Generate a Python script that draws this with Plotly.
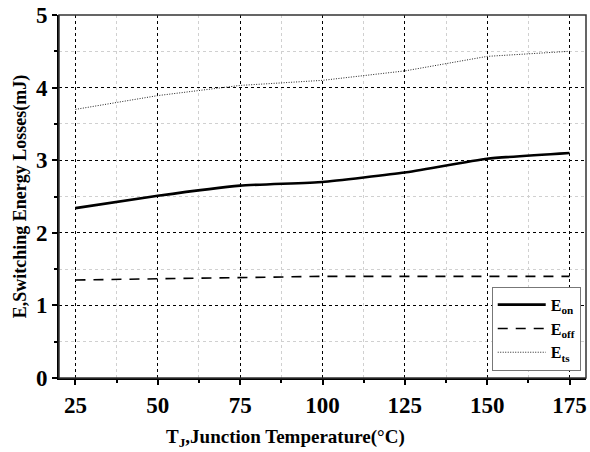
import plotly.graph_objects as go

temps = [25, 50, 75, 100, 125, 150, 175]
e_on = [2.34, 2.51, 2.65, 2.70, 2.83, 3.02, 3.10]
e_off = [1.35, 1.37, 1.39, 1.40, 1.40, 1.40, 1.40]
e_ts = [3.70, 3.89, 4.03, 4.10, 4.23, 4.43, 4.50]

x_ticks = [25, 50, 75, 100, 125, 150, 175]
y_ticks = [0, 1, 2, 3, 4, 5]

FONT = "Liberation Serif"

fig = go.Figure()
fig.add_trace(go.Scatter(x=temps, y=e_on, mode="lines", name="E<sub>on</sub>",
                         line=dict(color="black", width=2.6, shape="spline", smoothing=0.4)))
fig.add_trace(go.Scatter(x=temps, y=e_off, mode="lines", name="E<sub>off</sub>",
                         line=dict(color="black", width=1.6, dash="10px,8px")))
fig.add_trace(go.Scatter(x=temps, y=e_ts, mode="lines", name="E<sub>ts</sub>",
                         line=dict(color="#222222", width=1, dash="1px,1.5px")))

fig.update_layout(
    width=590, height=452,
    margin=dict(l=59, r=4, t=15, b=74),
    plot_bgcolor="white", paper_bgcolor="white",
    font=dict(family=FONT, color="black", weight="bold"),
    showlegend=True,
    legend=dict(x=0.99, xanchor="right", y=0.02, yanchor="bottom",
                bgcolor="white", bordercolor="#777777", borderwidth=1,
                font=dict(family=FONT, size=16, color="black", weight="bold"),
                itemwidth=48, tracegroupgap=0),
    xaxis=dict(
        range=[20, 180], tickvals=x_ticks, ticktext=[str(t) for t in x_ticks],
        tickfont=dict(family=FONT, size=23, color="black", weight="bold"),
        showline=True, linecolor="black", linewidth=2, mirror=False,
        ticks="outside", ticklen=5, tickwidth=1.5, tickcolor="black",
        showgrid=True, gridcolor="black", griddash="dot", gridwidth=1,
        minor=dict(dtick=12.5, tick0=0, ticks="outside", ticklen=3, tickcolor="black",
                   showgrid=True, gridcolor="#d0d0d0", griddash="dot", gridwidth=1),
        zeroline=False,
    ),
    yaxis=dict(
        range=[0, 5], tickvals=y_ticks,
        tickfont=dict(family=FONT, size=23, color="black", weight="bold"),
        showline=True, linecolor="black", linewidth=2, mirror=False,
        ticks="outside", ticklen=5, tickwidth=1.5, tickcolor="black",
        showgrid=True, gridcolor="black", griddash="dot", gridwidth=1,
        minor=dict(dtick=0.5, ticks="outside", ticklen=3, tickcolor="black",
                   showgrid=True, gridcolor="#d0d0d0", griddash="dot", gridwidth=1),
        zeroline=False,
        title=dict(text="E,Switching Energy Losses(mJ)",
                   font=dict(family=FONT, size=18, color="black", weight="bold"), standoff=5),
    ),
)

fig.add_annotation(text="T<sub>J</sub>,Junction Temperature(°C)", xref="paper", yref="paper",
                   x=0.43, y=-0.165, xanchor="center", yanchor="middle", showarrow=False,
                   font=dict(family=FONT, size=19, color="black", weight="bold"))

fig.add_shape(type="rect", xref="paper", yref="paper", x0=0, y0=0, x1=1, y1=1,
              line=dict(color="#333333", width=1.5), fillcolor="rgba(0,0,0,0)", layer="above")

fig.write_html("out.html")
